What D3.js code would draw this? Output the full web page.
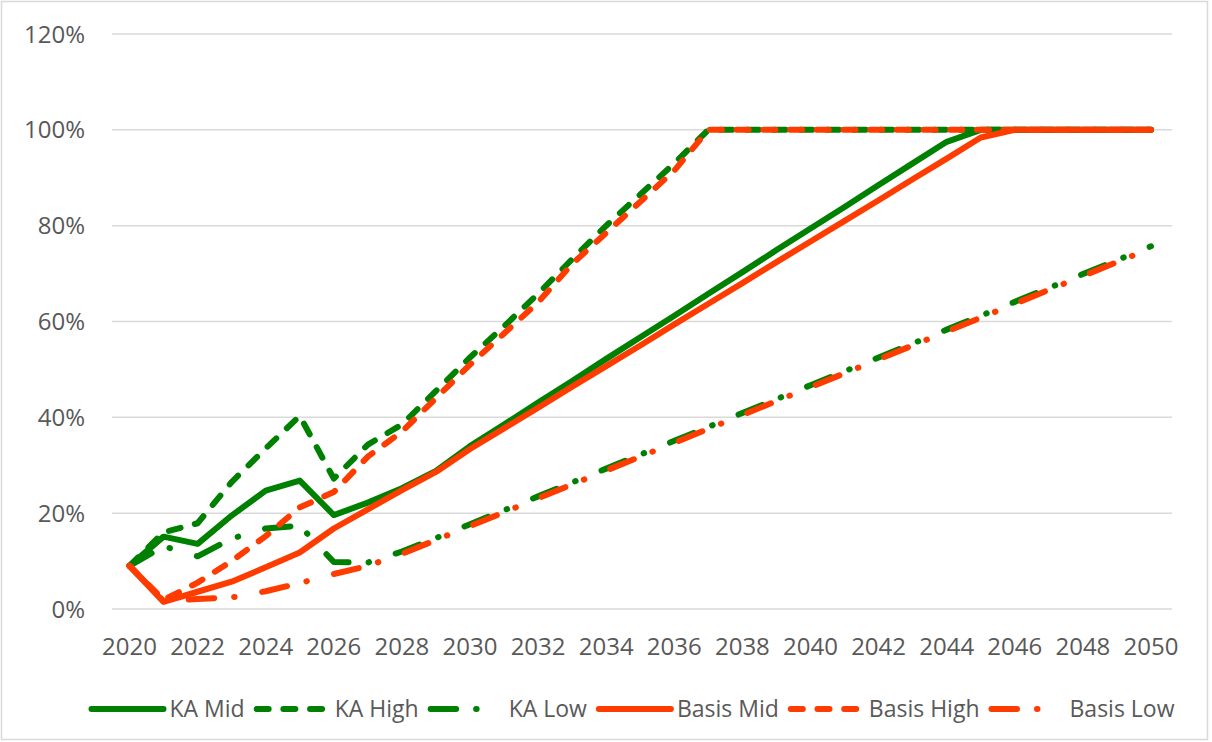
<!DOCTYPE html>
<meta charset="utf-8">
<script src="https://d3js.org/d3.v7.min.js"></script>
<style>
  body { margin: 0; background: #fff; }
  text { font-family: "Open Sans", sans-serif; fill: #595959; }
</style>
<div id="chart"></div>
<script>

// categories
var years = [2020, 2021, 2022, 2023, 2024, 2025, 2026, 2027, 2028, 2029, 2030,
             2031, 2032, 2033, 2034, 2035, 2036, 2037, 2038, 2039, 2040,
             2041, 2042, 2043, 2044, 2045, 2046, 2047, 2048, 2049, 2050];

// series values (%)
var kaMid = [9, 15.1, 13.6, 19.5, 24.7, 26.8, 19.6, 22.2, 25.2, 28.8, 34,
             38.5, 43.1, 47.6, 52.2, 56.7, 61.2, 65.8, 70.3, 74.9, 79.4,
             83.9, 88.5, 93, 97.5, 100, 100, 100, 100, 100, 100];
var kaHigh = [9, 16, 17.9, 26.5, 33.5, 40.3, 27.2, 34.3, 38.5, 45.5, 52.5,
              59, 65.8, 73, 80, 86.5, 93, 100, 100, 100, 100,
              100, 100, 100, 100, 100, 100, 100, 100, 100, 100];
var kaLow = [9, 13.1, 11, 14.7, 16.8, 17.4, 9.8, 9.7, 12, 14.8, 17.7,
             20.6, 23.5, 26.4, 29.3, 32.2, 35.1, 38, 40.9, 43.8, 46.7,
             49.6, 52.5, 55.4, 58.3, 61.2, 64.1, 67, 69.9, 72.8, 75.7];
var basisMid = [9, 1.5, 3.6, 5.7, 8.7, 11.8, 16.8, 20.8, 24.8, 28.6, 33.4,
                37.7, 42, 46.4, 50.7, 55, 59.4, 63.7, 68, 72.4, 76.7,
                81, 85.3, 89.7, 94, 98.4, 100, 100, 100, 100, 100];
var basisHigh = [9, 1.9, 5.5, 10, 15.2, 21.2, 24.4, 31.8, 37, 44, 51,
                 57.5, 64, 72, 78.5, 85, 91.5, 100, 100, 100, 100,
                 100, 100, 100, 100, 100, 100, 100, 100, 100, 100];
var basisLow = [9, 1.7, 2.1, 2.4, 3.7, 5.4, 7.3, 9, 11.5, 14.4, 17.3,
                20.2, 23.1, 26, 28.9, 31.8, 34.7, 37.6, 40.5, 43.4, 46.3,
                49.2, 52.1, 55, 57.9, 60.8, 63.7, 66.6, 69.5, 72.4, 75.3];

// tick labels
var yTicks = [0, 20, 40, 60, 80, 100, 120];
var xTickYears = years.filter(function(d) { return d % 2 === 0; });

var green = "#008000", red = "#ff3c00";
var dashed = "12,14.7", dashDot = "25.5,20,0.5,28";

var series = [
  {name: "KA Mid", values: kaMid, color: green, dash: null},
  {name: "KA High", values: kaHigh, color: green, dash: dashed},
  {name: "KA Low", values: kaLow, color: green, dash: dashDot},
  {name: "Basis Mid", values: basisMid, color: red, dash: null},
  {name: "Basis High", values: basisHigh, color: red, dash: dashed},
  {name: "Basis Low", values: basisLow, color: red, dash: dashDot}
];

var width = 1212, height = 742;
var plot = {left: 112, right: 1172, top: 34, bottom: 609};
var lineWidth = 6;

var svg = d3.select("#chart")
  .append("svg")
    .attr("width", width)
    .attr("height", height);

// chart area border
svg.append("rect")
  .attr("x", 1.5).attr("y", 1.5)
  .attr("width", 1206).attr("height", 738)
  .attr("fill", "#fff")
  .attr("stroke", "#d9d9d9")
  .attr("stroke-width", 1.5);

var x = d3.scalePoint()
  .domain(years)
  .range([129.5, 1151]);

var y = d3.scaleLinear()
  .domain([0, 120])
  .range([plot.bottom, plot.top]);

// gridlines
svg.append("g")
  .selectAll("line")
  .data(yTicks)
  .enter()
  .append("line")
    .attr("x1", plot.left)
    .attr("x2", plot.right)
    .attr("y1", function(d) { return y(d); })
    .attr("y2", function(d) { return y(d); })
    .attr("stroke", "#d9d9d9")
    .attr("stroke-width", 1.5);

// y labels
svg.append("g")
  .selectAll("text")
  .data(yTicks)
  .enter()
  .append("text")
    .attr("x", 85)
    .attr("y", function(d) { return y(d); })
    .attr("dy", "0.36em")
    .attr("text-anchor", "end")
    .style("font-size", "24px")
    .text(function(d) { return d + "%"; });

// x labels
svg.append("g")
  .selectAll("text")
  .data(xTickYears)
  .enter()
  .append("text")
    .attr("x", function(d) { return x(d); })
    .attr("y", 655)
    .attr("text-anchor", "middle")
    .style("font-size", "24px")
    .text(function(d) { return d; });

// lines
var line = d3.line()
  .x(function(d, i) { return x(years[i]); })
  .y(function(d) { return y(d); });

svg.append("g")
  .selectAll("path")
  .data(series)
  .enter()
  .append("path")
    .attr("d", function(s) { return line(s.values); })
    .attr("fill", "none")
    .attr("stroke", function(s) { return s.color; })
    .attr("stroke-width", lineWidth)
    .attr("stroke-linejoin", "round")
    .attr("stroke-linecap", "round")
    .attr("stroke-dasharray", function(s) { return s.dash; });

// legend
var legend = svg.append("g");
var sampleLen = 72, legendY = 709;
var items = legend.selectAll("g")
  .data(series)
  .enter()
  .append("g");

items.append("line")
  .attr("x1", 0).attr("x2", sampleLen)
  .attr("y1", 0).attr("y2", 0)
  .attr("stroke", function(s) { return s.color; })
  .attr("stroke-width", lineWidth)
  .attr("stroke-linecap", "round")
  .attr("stroke-dasharray", function(s) { return s.dash; });

items.append("text")
  .attr("x", sampleLen + 6)
  .attr("y", 0)
  .attr("dy", "0.36em")
  .style("font-size", "23px")
  .text(function(s) { return s.name; });

var widths = [];
items.each(function() {
  widths.push(sampleLen + 6 + d3.select(this).select("text").node().getComputedTextLength());
});
var gap = 12;
var total = d3.sum(widths) + gap * (widths.length - 1);
var cursor = 633 - total / 2;
items.attr("transform", function(s, i) {
  var t = "translate(" + cursor + "," + legendY + ")";
  cursor += widths[i] + gap;
  return t;
});

</script>
